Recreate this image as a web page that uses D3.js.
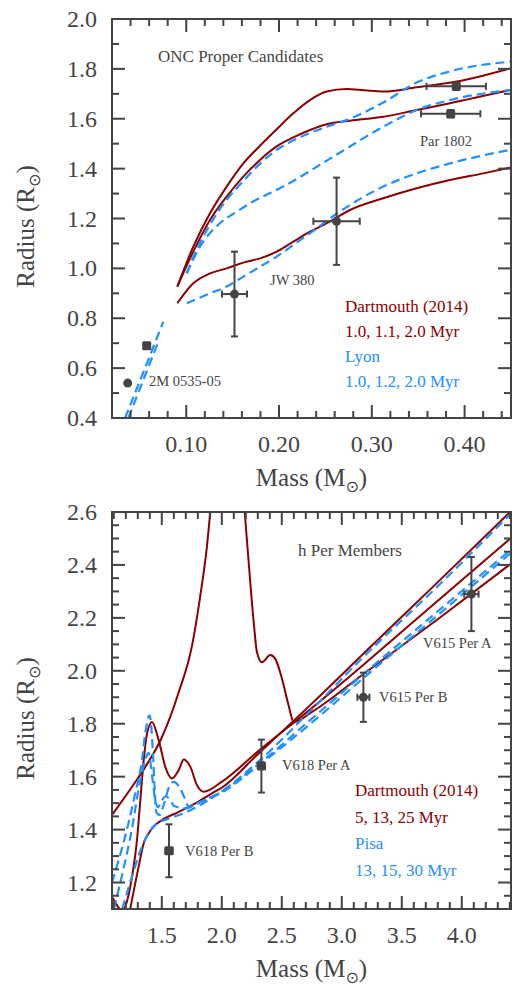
<!DOCTYPE html>
<html><head><meta charset="utf-8">
<script src="https://cdn.jsdelivr.net/npm/d3@7"></script>
<style>
body{margin:0;background:#fff;}
</style></head>
<body><svg id="c" width="512" height="987" font-family="'Liberation Serif', 'DejaVu Serif', serif"></svg>
<script>
// ---------- DATA: top panel (ONC) ----------
const onc_dart_1p0 = [[0.0904,0.927],[0.1076,1.087],[0.1256,1.221],[0.1436,1.328],[0.1615,1.421],[0.1795,1.492],[0.1975,1.558],[0.2154,1.622],[0.2334,1.675],[0.2514,1.709],[0.2729,1.719],[0.2920,1.714],[0.3123,1.709],[0.3483,1.726],[0.3914,1.749],[0.4489,1.802]];
const onc_dart_1p1 = [[0.0904,0.927],[0.1076,1.067],[0.1256,1.194],[0.1436,1.288],[0.1615,1.368],[0.1795,1.435],[0.1975,1.489],[0.2154,1.525],[0.2334,1.555],[0.2514,1.578],[0.2765,1.592],[0.3123,1.608],[0.3483,1.635],[0.3842,1.662],[0.4489,1.715]];
const onc_dart_2p0 = [[0.0904,0.860],[0.1076,0.940],[0.1256,0.980],[0.1436,1.000],[0.1615,1.023],[0.1795,1.040],[0.1975,1.067],[0.2154,1.107],[0.2334,1.147],[0.2514,1.181],[0.2765,1.234],[0.3123,1.281],[0.3483,1.321],[0.3842,1.354],[0.4201,1.381],[0.4489,1.404]];
const onc_lyon_1p0 = [[0.1005,0.980],[0.1076,1.045],[0.1256,1.175],[0.1436,1.275],[0.1615,1.350],[0.1795,1.420],[0.1975,1.475],[0.2154,1.513],[0.2334,1.543],[0.2514,1.568],[0.2765,1.600],[0.3123,1.665],[0.3483,1.745],[0.3842,1.790],[0.4489,1.829]];
const onc_lyon_1p2 = [[0.1005,0.980],[0.1148,1.087],[0.1364,1.181],[0.1544,1.227],[0.1687,1.261],[0.2046,1.328],[0.2585,1.448],[0.3123,1.568],[0.3483,1.635],[0.3842,1.675],[0.4489,1.715]];
const onc_lyon_2p0 = [[0.1005,0.860],[0.1256,0.900],[0.1436,0.927],[0.1615,0.967],[0.1795,1.007],[0.1975,1.047],[0.2154,1.094],[0.2334,1.141],[0.2628,1.221],[0.3123,1.328],[0.3483,1.381],[0.3842,1.421],[0.4489,1.475]];
const onc_lyon_low_a = [[0.0340,0.399],[0.0550,0.595],[0.0753,0.786]];
const onc_lyon_low_b = [[0.0376,0.400],[0.0540,0.555],[0.0699,0.706]];
const onc_star_mass  = [0.0369, 0.0574, 0.152, 0.262, 0.391, 0.385];
const onc_star_merr  = [0, 0, 0.0135, 0.025, 0.032, 0.032];
const onc_star_rad   = [0.540, 0.690, 0.897, 1.189, 1.730, 1.620];
const onc_star_rerr  = [0, 0, 0.170, 0.175, 0.015, 0.015];
const onc_labels = ["2M 0535-05", "JW 380", "Par 1802"];
const onc_legend = ["Dartmouth (2014)", "1.0, 1.1, 2.0 Myr", "Lyon", "1.0, 1.2, 2.0 Myr"];

// ---------- DATA: bottom panel (h Per) ----------
const hper_dart_5 = [[1.085,1.455],[1.252,1.562],[1.363,1.637],[1.502,1.750],[1.641,1.919],[1.752,2.095],[1.821,2.284],[1.877,2.473],[1.904,2.599],[1.95,2.85],[2.05,3.0],[2.15,2.85],[2.191,2.599],[2.224,2.410],[2.266,2.183],[2.293,2.070],[2.335,2.032],[2.404,2.060],[2.446,2.045],[2.502,1.969],[2.557,1.869],[2.599,1.806],[2.752,1.845],[3.186,1.990],[3.80,2.195],[4.402,2.402]];
const hper_dart_13 = [[1.085,1.146],[1.15,1.100],[1.175,1.092],[1.196,1.109],[1.252,1.222],[1.293,1.360],[1.321,1.511],[1.349,1.662],[1.377,1.763],[1.418,1.807],[1.474,1.738],[1.529,1.637],[1.585,1.593],[1.641,1.625],[1.683,1.665],[1.738,1.637],[1.793,1.568],[1.849,1.543],[2.002,1.581],[2.30,1.695],[2.752,1.860],[3.186,2.025],[3.80,2.265],[4.402,2.499]];
const hper_dart_25 = [[1.238,1.103],[1.307,1.260],[1.349,1.348],[1.391,1.386],[1.432,1.411],[1.502,1.436],[1.641,1.467],[1.779,1.499],[1.918,1.537],[2.002,1.559],[2.30,1.685],[2.752,1.877],[3.186,2.067],[3.80,2.335],[4.402,2.600]];
const hper_pisa_13 = [[1.085,1.200],[1.15,1.300],[1.22,1.420],[1.28,1.540],[1.335,1.662],[1.362,1.763],[1.399,1.832],[1.425,1.700],[1.44,1.560],[1.455,1.465],[1.48,1.455],[1.52,1.500],[1.56,1.560],[1.60,1.580],[1.64,1.565],[1.69,1.520],[1.724,1.486],[1.80,1.500],[2.0,1.540],[2.30,1.640],[2.752,1.805],[3.186,1.975],[3.80,2.210],[4.402,2.443]];
const hper_pisa_15 = [[1.10,1.100],[1.18,1.250],[1.25,1.400],[1.31,1.560],[1.36,1.660],[1.39,1.690],[1.42,1.600],[1.45,1.500],[1.47,1.485],[1.50,1.510],[1.53,1.525],[1.57,1.512],[1.60,1.490],[1.70,1.480],[1.80,1.500],[2.0,1.545],[2.30,1.645],[2.752,1.820],[3.186,1.990],[3.80,2.225],[4.402,2.455]];
const hper_pisa_30 = [[1.17,1.100],[1.25,1.220],[1.33,1.330],[1.40,1.395],[1.45,1.420],[1.55,1.440],[1.70,1.465],[2.0,1.545],[2.30,1.655],[2.752,1.855],[3.186,2.055],[3.80,2.320],[4.402,2.591]];
const hper_star_mass = [4.08, 3.18, 2.33, 1.56];
const hper_star_merr = [0.06, 0.05, 0.03, 0.03];
const hper_star_rad  = [2.29, 1.90, 1.64, 1.32];
const hper_star_rerr = [0.14, 0.093, 0.10, 0.10];
const hper_labels = ["V615 Per A", "V615 Per B", "V618 Per A", "V618 Per B"];
const hper_legend = ["Dartmouth (2014)", "5, 13, 25 Myr", "Pisa", "13, 15, 30 Myr"];

// ---------- DRAW ----------
const RED = "#8b0000", BLUE = "#1e90ff", AX = "#444";
const FONT = "'Liberation Serif', 'DejaVu Serif', serif";
const svg = d3.select("#c");

function txt(sel){ return sel.append("text").attr("font-family", FONT); }

function panel(cfg){
  const g = svg.append("g");
  const x = d3.scaleLinear().domain(cfg.xd).range([cfg.x0, cfg.x1]);
  const y = d3.scaleLinear().domain(cfg.yd).range([cfg.y1, cfg.y0]);
  const cid = "clip" + cfg.id;
  svg.append("clipPath").attr("id", cid).append("rect")
    .attr("x", cfg.x0).attr("y", cfg.y0).attr("width", cfg.x1 - cfg.x0).attr("height", cfg.y1 - cfg.y0);
  const plot = g.append("g").attr("clip-path", `url(#${cid})`);
  const line = d3.line().x(d => x(d[0])).y(d => y(d[1])).curve(d3.curveMonotoneX);
  cfg.red.forEach(c => plot.append("path").attr("d", line(c)).attr("fill","none").attr("stroke",RED).attr("stroke-width",2));
  cfg.blue.forEach(c => plot.append("path").attr("d", line(c)).attr("fill","none").attr("stroke",BLUE).attr("stroke-width",2.2).attr("stroke-dasharray","9,5"));

  cfg.mass.forEach((m,i) => {
    const cx = x(m), cy = y(cfg.rad[i]);
    if (cfg.merr[i] > 0) {
      const xa = x(m - cfg.merr[i]), xb = x(m + cfg.merr[i]);
      plot.append("line").attr("x1",xa).attr("x2",xb).attr("y1",cy).attr("y2",cy).attr("stroke",AX).attr("stroke-width",2);
      [xa,xb].forEach(xx => plot.append("line").attr("x1",xx).attr("x2",xx).attr("y1",cy-3.5).attr("y2",cy+3.5).attr("stroke",AX).attr("stroke-width",2));
    }
    if (cfg.rerr[i] > 0) {
      const ya = y(cfg.rad[i] - cfg.rerr[i]), yb = y(cfg.rad[i] + cfg.rerr[i]);
      plot.append("line").attr("x1",cx).attr("x2",cx).attr("y1",ya).attr("y2",yb).attr("stroke",AX).attr("stroke-width",2);
      [ya,yb].forEach(yy => plot.append("line").attr("x1",cx-3.5).attr("x2",cx+3.5).attr("y1",yy).attr("y2",yy).attr("stroke",AX).attr("stroke-width",2));
    }
    if (cfg.square[i]) plot.append("rect").attr("x",cx-4.5).attr("y",cy-4.5).attr("width",9).attr("height",9).attr("rx",1.5).attr("fill",AX);
    else plot.append("circle").attr("cx",cx).attr("cy",cy).attr("r",4.5).attr("fill",AX);
  });

  g.append("rect").attr("x",cfg.x0).attr("y",cfg.y0).attr("width",cfg.x1-cfg.x0).attr("height",cfg.y1-cfg.y0)
    .attr("fill","none").attr("stroke",AX).attr("stroke-width",2);
  const tk = g.append("g").attr("stroke",AX).attr("stroke-width",2);
  const xs = [];
  const nx0 = Math.ceil(cfg.xd[0]/cfg.xminor - 1e-6), nx1 = Math.floor(cfg.xd[1]/cfg.xminor + 1e-6);
  for (let k = nx0; k <= nx1; k++) xs.push(k*cfg.xminor);
  xs.forEach(v => {
    const major = Math.abs(v/cfg.xmajor - Math.round(v/cfg.xmajor)) < 1e-6;
    const L = major ? 13 : 7;
    tk.append("line").attr("x1",x(v)).attr("x2",x(v)).attr("y1",cfg.y1).attr("y2",cfg.y1-L);
    tk.append("line").attr("x1",x(v)).attr("x2",x(v)).attr("y1",cfg.y0).attr("y2",cfg.y0+L);
  });
  const ys = [];
  const ny0 = Math.ceil(cfg.yd[0]/cfg.yminor - 1e-6), ny1 = Math.floor(cfg.yd[1]/cfg.yminor + 1e-6);
  for (let k = ny0; k <= ny1; k++) ys.push(k*cfg.yminor);
  ys.forEach(v => {
    const major = Math.abs(v/cfg.ymajor - Math.round(v/cfg.ymajor)) < 1e-6;
    const L = major ? 13 : 7;
    tk.append("line").attr("y1",y(v)).attr("y2",y(v)).attr("x1",cfg.x0).attr("x2",cfg.x0+L);
    tk.append("line").attr("y1",y(v)).attr("y2",y(v)).attr("x1",cfg.x1).attr("x2",cfg.x1-L);
  });
  cfg.xlabels.forEach(v => txt(g).attr("x",x(v)).attr("y",cfg.y1+34).attr("text-anchor","middle")
    .attr("font-size",24).attr("fill",AX).text(cfg.xfmt(v)));
  cfg.ylabels.forEach(v => txt(g).attr("x",97).attr("y",y(v)+8).attr("text-anchor","end")
    .attr("font-size",24).attr("fill",AX).text(d3.format(".1f")(v)));
  const xt = txt(g).attr("x",(cfg.x0+cfg.x1)/2).attr("y",cfg.y1+68).attr("text-anchor","middle")
    .attr("font-size",25).attr("fill",AX);
  xt.append("tspan").text("Mass (M");
  xt.append("tspan").attr("font-size",16).attr("dy",6).attr("font-family","DejaVu Sans").text("⊙");
  xt.append("tspan").attr("dy",-6).text(")");
  const yt = txt(g).attr("transform",`translate(34,${(cfg.y0+cfg.y1)/2 + 8}) rotate(-90)`).attr("text-anchor","middle")
    .attr("font-size",25).attr("fill",AX);
  yt.append("tspan").text("Radius (R");
  yt.append("tspan").attr("font-size",16).attr("dy",6).attr("font-family","DejaVu Sans").text("⊙");
  yt.append("tspan").attr("dy",-6).text(")");
  txt(g).attr("x",cfg.title[1]).attr("y",cfg.title[2]).attr("font-size",17).attr("fill",AX).text(cfg.title[0]);
  cfg.labels.forEach((t,i) => txt(g).attr("x",cfg.labelPos[i][0]).attr("y",cfg.labelPos[i][1])
    .attr("font-size",14.5).attr("fill",AX).text(t));
  cfg.legend.forEach((t,i) => txt(g).attr("x",cfg.legPos[0]).attr("y",cfg.legPos[1]+i*cfg.legPos[2])
    .attr("font-size",17).attr("fill", i<2 ? RED : BLUE).text(t));
}

panel({id:1, x0:112, x1:511, y0:19, y1:418, xd:[0.02,0.45], yd:[0.4,2.0],
  xminor:0.02, xmajor:0.1, yminor:0.1, ymajor:0.2,
  xlabels:[0.1,0.2,0.3,0.4], xfmt:d3.format(".2f"), ylabels:[0.4,0.6,0.8,1.0,1.2,1.4,1.6,1.8,2.0],
  red:[onc_dart_1p0, onc_dart_1p1, onc_dart_2p0],
  blue:[onc_lyon_1p0, onc_lyon_1p2, onc_lyon_2p0, onc_lyon_low_a, onc_lyon_low_b],
  mass:onc_star_mass, merr:onc_star_merr, rad:onc_star_rad, rerr:onc_star_rerr,
  square:[false,true,false,false,true,true],
  title:["ONC Proper Candidates",158,62],
  labels:onc_labels, labelPos:[[149,386],[270,285],[420,146]],
  legend:onc_legend, legPos:[345,312,25]});

panel({id:2, x0:112, x1:511, y0:512, y1:909, xd:[1.085,4.41], yd:[1.1,2.6],
  xminor:0.1, xmajor:0.5, yminor:0.05, ymajor:0.2,
  xlabels:[1.5,2.0,2.5,3.0,3.5,4.0], xfmt:d3.format(".1f"), ylabels:[1.2,1.4,1.6,1.8,2.0,2.2,2.4,2.6],
  red:[hper_dart_5, hper_dart_13, hper_dart_25],
  blue:[hper_pisa_13, hper_pisa_15, hper_pisa_30],
  mass:hper_star_mass, merr:hper_star_merr, rad:hper_star_rad, rerr:hper_star_rerr,
  square:[false,false,true,true],
  title:["h Per Members",298,556],
  labels:hper_labels, labelPos:[[423,648],[379,702],[282,770],[185,856]],
  legend:hper_legend, legPos:[355,796,26.5]});
</script></body></html>
